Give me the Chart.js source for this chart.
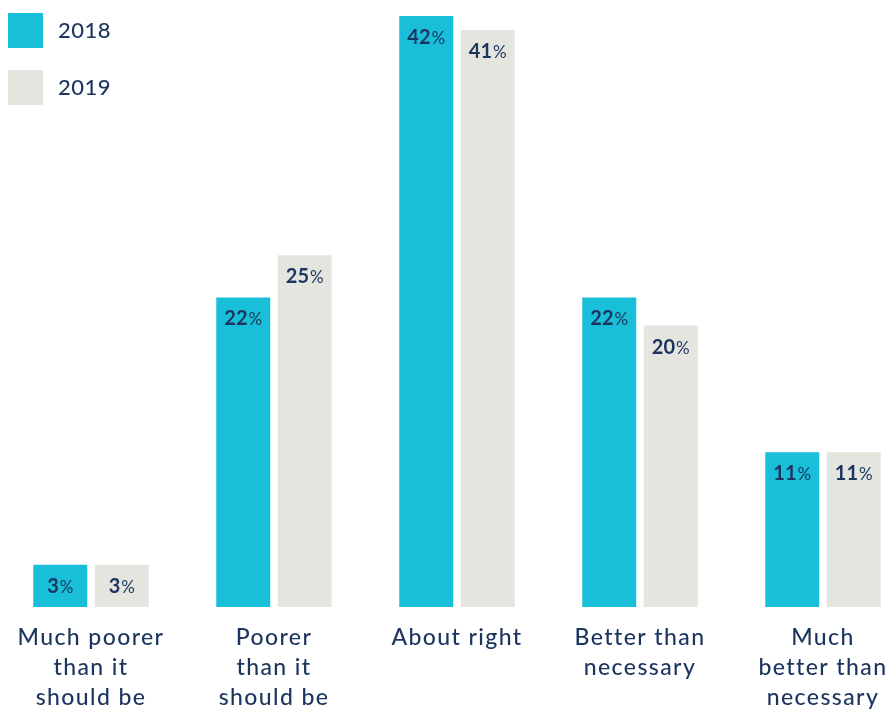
<!DOCTYPE html>
<html>
<head>
<meta charset="utf-8">
<script src="https://cdn.jsdelivr.net/npm/chart.js@4.4.1/dist/chart.umd.min.js"></script>
<style>
  html, body { margin: 0; padding: 0; background: #fff; }
  #wrap { width: 888px; height: 713px; }
</style>
</head>
<body>
<div id="wrap"><canvas id="chart"></canvas></div>
<script>
const categories = [
  ["Much poorer", "than it", "should be"],
  ["Poorer", "than it", "should be"],
  "About right",
  ["Better than", "necessary"],
  ["Much", "better than", "necessary"],
];
const seriesNames = ["2018", "2019"];
const values2018 = [3, 22, 42, 22, 11];
const values2019 = [3, 25, 41, 20, 11];

const TEXT = "#1b355f";
const TEAL = "#19bed8";
const GREY = "#e5e5e0";
const FONT = "Lato";

// wider tracking for the axis labels, like the original typeface
const tracking = {
  id: "tracking",
  beforeDraw(chart) {
    chart.ctx.letterSpacing = "1.4px";
  },
};

// value labels inside the top of each bar, with a smaller "%"
const barLabels = {
  id: "barLabels",
  afterDatasetsDraw(chart) {
    const ctx = chart.ctx;
    ctx.save();
    ctx.letterSpacing = "0px";
    ctx.fillStyle = TEXT;
    ctx.textBaseline = "alphabetic";
    ctx.textAlign = "left";
    chart.data.datasets.forEach((ds, i) => {
      chart.getDatasetMeta(i).data.forEach((bar, j) => {
        const num = String(ds.data[j]);
        ctx.font = `bold 20px ${FONT}`;
        const wn = ctx.measureText(num).width;
        ctx.font = `17px ${FONT}`;
        const wp = ctx.measureText("%").width;
        const x0 = bar.x - (wn + wp + 1) / 2;
        const y = bar.y + 28;
        ctx.font = `bold 20px ${FONT}`;
        ctx.fillText(num, x0, y);
        ctx.font = `17px ${FONT}`;
        ctx.fillText("%", x0 + wn + 1, y);
      });
    });
    ctx.restore();
  },
};

// legend squares stacked in the top-left corner
const sideLegend = {
  id: "sideLegend",
  afterDraw(chart) {
    const ctx = chart.ctx;
    ctx.save();
    ctx.letterSpacing = "0.5px";
    chart.data.datasets.forEach((ds, i) => {
      const top = 13 + i * 57;
      ctx.fillStyle = ds.backgroundColor;
      ctx.fillRect(8, top, 35, 35);
      ctx.fillStyle = TEXT;
      ctx.font = `500 22px ${FONT}`;
      ctx.textBaseline = "middle";
      ctx.fillText(ds.label, 58, top + 18);
    });
    ctx.restore();
  },
};

new Chart(document.getElementById("chart"), {
  type: "bar",
  data: {
    labels: categories,
    datasets: [
      { label: seriesNames[0], data: values2018, backgroundColor: TEAL, clip: false },
      { label: seriesNames[1], data: values2019, backgroundColor: GREY, clip: false },
    ],
  },
  options: {
    responsive: true,
    maintainAspectRatio: false,
    animation: false,
    layout: { padding: { left: 91, right: 65, top: 16, bottom: 0 } },
    datasets: { bar: { categoryPercentage: 0.672, barPercentage: 0.878 } },
    plugins: { legend: { display: false }, tooltip: { enabled: false } },
    scales: {
      x: {
        offset: false,
        grid: { display: false, drawTicks: false },
        border: { display: false },
        ticks: {
          color: TEXT,
          font: { family: FONT, size: 23, weight: "500", lineHeight: "30px" },
          padding: 16,
          maxRotation: 0,
          autoSkip: false,
        },
        afterFit(scale) {
          scale.height = 106;
          scale.paddingLeft = 0;
          scale.paddingRight = 0;
        },
      },
      y: { display: false, min: 0, max: 42 },
    },
  },
  plugins: [tracking, barLabels, sideLegend],
});
</script>
</body>
</html>
